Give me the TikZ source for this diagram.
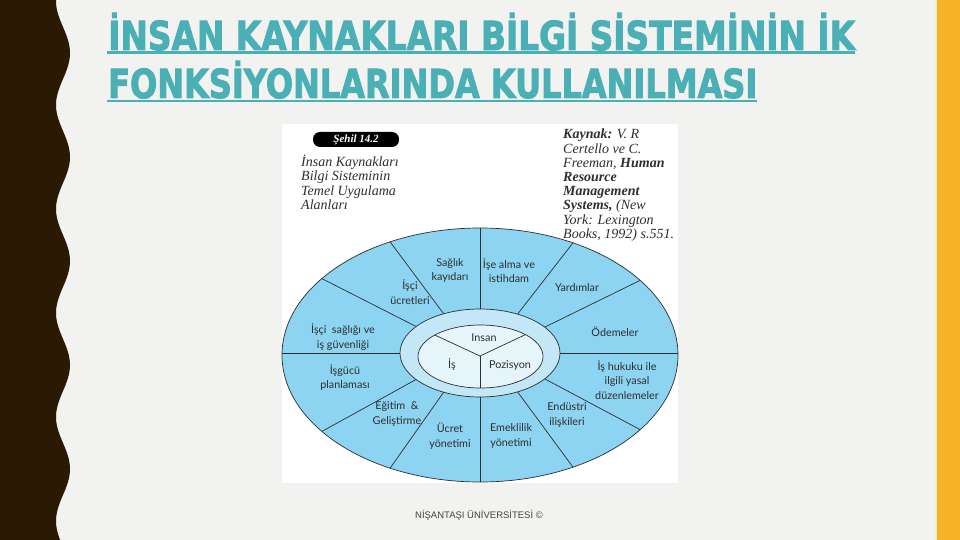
\documentclass[tikz,border=0pt]{standalone}
\usepackage{fontspec}
\setmainfont{Liberation Serif}
\newfontfamily\labfont{Lato}
\newfontfamily\ttlfont{DejaVu Sans}[BoldFeatures={FakeBold=2.5}]
\newfontfamily\footfont{Liberation Sans}
\usetikzlibrary{calc}
\definecolor{bg}{HTML}{F2F2F0}
\definecolor{band}{HTML}{2A1A04}
\definecolor{orangeband}{HTML}{F7B226}
\definecolor{paleband}{HTML}{FCEFC6}
\definecolor{teal}{HTML}{4BAFB6}
\definecolor{outerblue}{HTML}{8DD4F2}
\definecolor{midblue}{HTML}{C3E7F7}
\definecolor{innerblue}{HTML}{E6F5FC}
\definecolor{ink}{HTML}{2E2E2E}
\definecolor{foot}{HTML}{444444}
\tikzset{
  divider/.style={draw=ink, line width=0.7pt},
  lab/.style={font=\labfont\fontsize{10.8}{14.5}\selectfont, text=ink, align=center, inner sep=0pt},
  captxt/.style={font=\itshape\fontsize{14}{14.2}\selectfont, text=ink, align=left, inner sep=0pt, anchor=north west},
}
\begin{document}
\begin{tikzpicture}[x=1pt,y=-1pt]
\useasboundingbox (0,0) rectangle (960,540);
\fill[bg] (0,0) rectangle (960,540);
% left wavy band
\fill[band] (0,0) -- plot[variable=\t, domain=0:540, samples=220, smooth] ({63+7*cos(3.4615*(\t-53))},\t) -- (0,540) -- cycle;
% right bands
\fill[paleband] (934.5,0) rectangle (937,540);
\fill[orangeband] (937,0) rectangle (960,540);
% title
\node[anchor=base west, inner sep=0pt, text=teal] (t1) at (108,50)
  {\resizebox{747pt}{37pt}{\ttlfont\bfseries İNSAN KAYNAKLARI BİLGİ SİSTEMİNİN İK}};
\node[anchor=base west, inner sep=0pt, text=teal] (t2) at (108,98)
  {\resizebox{649pt}{37pt}{\ttlfont\bfseries FONKSİYONLARINDA KULLANILMASI}};
\fill[teal] (107,51.3) rectangle (855,54);
\fill[teal] (107,99.8) rectangle (757,102.5);
% picture panel
\fill[white] (282,124) rectangle (678,483);
\node[fill=black, rounded corners=7pt, minimum width=86pt, minimum height=15pt, inner sep=0pt,
  text=white, font=\bfseries\itshape\fontsize{11}{12}\selectfont] (pill) at (356,139.5) {Şehil 14.2};
\node[captxt] (capl) at (301,155) {İnsan Kaynakları\\Bilgi Sisteminin\\Temel Uygulama\\Alanları};
\node[captxt] (capr) at (563,129) {\textbf{Kaynak:} V. R\\Certello ve C.\\Freeman, \textbf{Human}\\\textbf{Resource}\\\textbf{Management}\\\textbf{Systems,} (New\\York: Lexington\\Books, 1992) s.551.};
% wheel
\coordinate (oc) at (480,355);
\coordinate (mc) at (480,353);
\coordinate (ic) at (480.5,356.5);
\filldraw[fill=outerblue, divider] (oc) ellipse [x radius=198pt, y radius=127pt];
\draw[divider] ($(mc)+(-80,0)$) -- (282,353);
\draw[divider] ($(mc)+(80,0)$) -- (678,353);
\draw[divider] ($(mc)+(0,-44)$) -- ($(oc)+(0,-127)$);
\draw[divider] ($(mc)+(0,44)$) -- ($(oc)+(0,127)$);
\foreach \a in {36,62,117,143,217,243,298,324}{
  \draw[divider] ($(mc)+({80*cos(\a)},{-44*sin(\a)})$) -- ($(oc)+({198*cos(\a)},{-127*sin(\a)})$);
}
\filldraw[fill=midblue, divider] (mc) ellipse [x radius=80pt, y radius=44pt];
\filldraw[fill=innerblue, divider] (ic) ellipse [x radius=62.5pt, y radius=31.5pt];
\coordinate (yj) at (480,356);
\coordinate (ya) at ($(ic)+({62.5*cos(137)},{-31.5*sin(137)})$);
\coordinate (yb) at ($(ic)+({62.5*cos(44)},{-31.5*sin(44)})$);
\coordinate (yc) at ($(ic)+(-0.5,31.5)$);
\draw[divider] (ya) -- (yj) -- (yb);
\draw[divider] (yj) -- (yc);
% inner labels
\node[lab] (insan) at (484,338) {Insan};
\node[lab] (is) at (452,365) {İş};
\node[lab] (poz) at (510,365) {Pozisyon};
% outer labels
\node[lab] (l1) at (509,270.5) {İşe alma ve\\istihdam};
\node[lab] (l2) at (577,288) {Yardımlar};
\node[lab] (l3) at (615,332) {Ödemeler};
\node[lab] (l4) at (627,380) {İş hukuku ile\\ilgili yasal\\düzenlemeler};
\node[lab] (l5) at (567,415) {Endüstri\\ilişkileri};
\node[lab] (l6) at (511,436) {Emeklilik\\yönetimi};
\node[lab] (l7) at (450,436) {Ücret\\yönetimi};
\node[lab] (l8) at (397,414) {Eğitim~~\&\\Geliştirme};
\node[lab] (l9) at (345,377.5) {İşgücü\\planlaması};
\node[lab] (l10) at (343,337) {İşçi~~sağlığı ve\\iş güvenliği};
\node[lab] (l11) at (410,292) {İşçi\\ücretleri};
\node[lab] (l12) at (450,270.5) {Sağlık\\kayıdarı};
% footer
\node[font=\footfont\fontsize{9.5}{11}\selectfont, text=foot, inner sep=0pt] (ft) at (479,515) {NİŞANTAŞI ÜNİVERSİTESİ ©};
\end{tikzpicture}
\end{document}
